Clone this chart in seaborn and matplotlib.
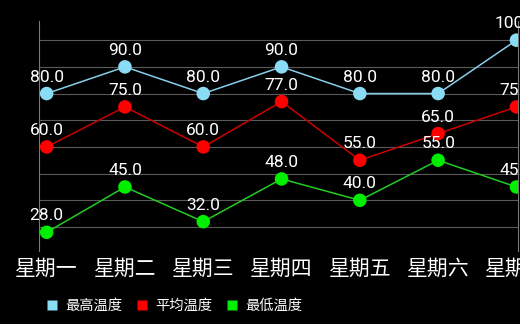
import matplotlib
matplotlib.use("Agg")
import matplotlib.pyplot as plt
from matplotlib.lines import Line2D
import seaborn as sns
import pandas as pd

days = ["星期一", "星期二", "星期三", "星期四", "星期五", "星期六", "星期日"]
series_names = ["最高温度", "平均温度", "最低温度"]
high = [80.0, 90.0, 80.0, 90.0, 80.0, 80.0, 100.0]
avg = [60.0, 75.0, 60.0, 77.0, 55.0, 65.0, 75.0]
low = [28.0, 45.0, 32.0, 48.0, 40.0, 55.0, 45.0]

marker_colors = {"最高温度": "#8ADCF5", "平均温度": "#FF0000", "最低温度": "#00EE00"}
line_colors = {"最高温度": "#87CEEB", "平均温度": "#CC0000", "最低温度": "#22CC22"}

rows = []
for name, vals in zip(series_names, [high, avg, low]):
    for d, v in zip(days, vals):
        rows.append({"day": d, "value": v, "series": name})
df = pd.DataFrame(rows)

sns.set_theme(style="dark")
plt.rcParams["font.family"] = ["Noto Sans CJK SC", "DejaVu Sans"]

fig = plt.figure(figsize=(5.2, 3.24), dpi=100, facecolor="black")
W, H = 520, 324
left, right, top, bottom = 39.3, 518, 20.7, 251
ax = fig.add_axes([left / W, 1 - bottom / H, (right - left) / W, (bottom - top) / H])
ax.set_facecolor("black")

sns.lineplot(data=df, x="day", y="value", hue="series", palette=line_colors,
             linewidth=1.1, ax=ax, legend=False, sort=False)
sns.scatterplot(data=df, x="day", y="value", hue="series", palette=marker_colors,
                s=95, edgecolor="none", linewidth=0, ax=ax, legend=False, zorder=3)

for vals in [high, avg, low]:
    for i, v in enumerate(vals):
        ax.annotate(f"{v:.1f}", (i, v), xytext=(0, 8.6), textcoords="offset points",
                    ha="center", va="baseline", color="white", fontsize=12.5,
                    family=["Roboto", "DejaVu Sans"], annotation_clip=False)

ax.set_xlim(-0.094, 6.02)
ax.set_ylim(21, 107.3)
ax.set_yticks([30, 40, 50, 60, 70, 80, 90, 100])
ax.set_yticklabels([])
ax.tick_params(axis="y", length=0)
ax.tick_params(axis="x", length=0, pad=5, colors="white", labelsize=15)
ax.set_xlabel("")
ax.set_ylabel("")
ax.grid(axis="y", color="#5a5a5a", linewidth=0.8)
ax.grid(axis="x", visible=False)
for s in ["top", "bottom"]:
    ax.spines[s].set_visible(False)
for s in ["left", "right"]:
    ax.spines[s].set_visible(True)
    ax.spines[s].set_color("#777777")
    ax.spines[s].set_linewidth(0.8)

handles = [Line2D([], [], marker="s", linestyle="none", markersize=7.8,
                  markerfacecolor=marker_colors[n], markeredgecolor="none") for n in series_names]
fig.legend(handles, series_names, loc="center left", bbox_to_anchor=(46 / W, 1 - 306 / H),
           ncol=3, frameon=False, fontsize=10.3, labelcolor="white", handlelength=0.8,
           handletextpad=0.55, columnspacing=0.95, borderpad=0, borderaxespad=0)

fig.savefig("out.png", dpi=100, facecolor="black")
